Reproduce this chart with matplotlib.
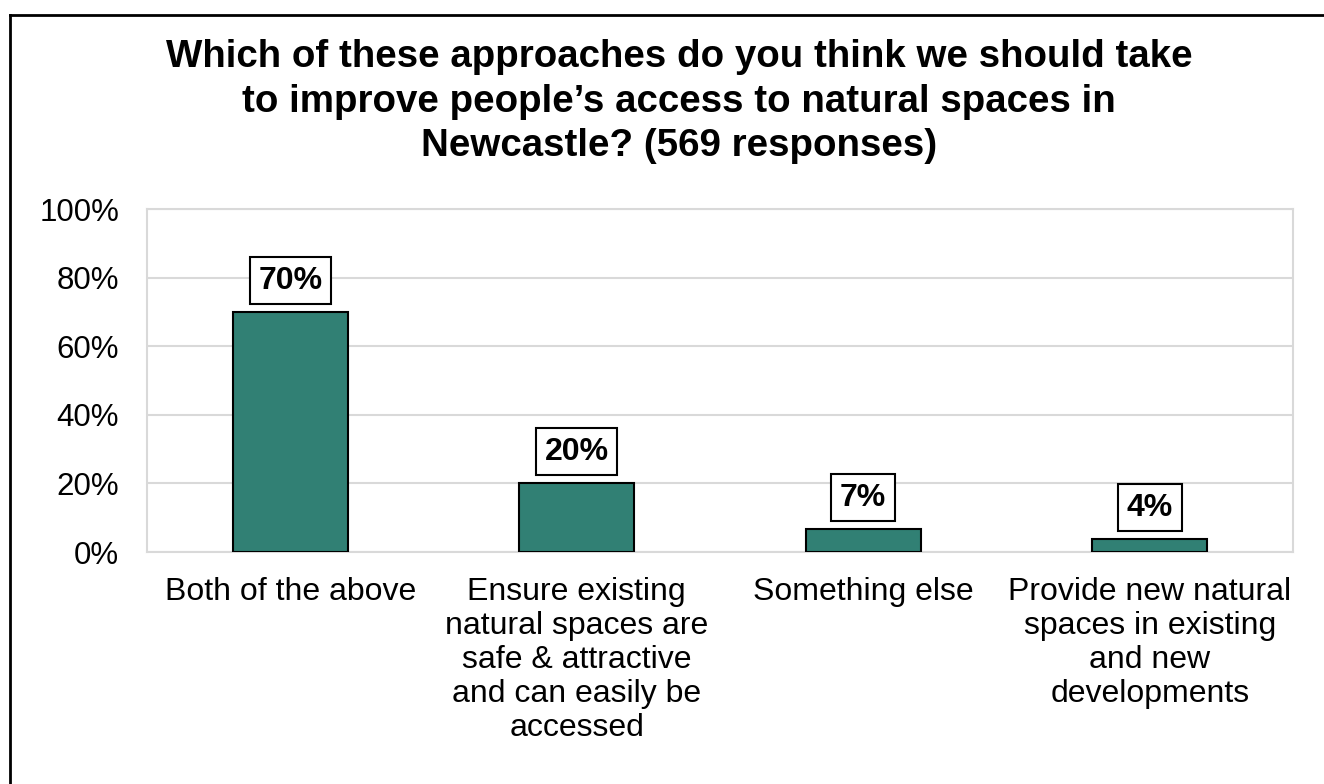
import matplotlib
matplotlib.use("Agg")
import matplotlib.pyplot as plt
from matplotlib.lines import Line2D
from matplotlib.ticker import PercentFormatter

plt.rcParams['font.family'] = ['Liberation Sans', 'DejaVu Sans']

# Survey answers (share of 569 responses, %)
categories = [
    "Both of the above",
    "Ensure existing\nnatural spaces are\nsafe & attractive\nand can easily be\naccessed",
    "Something else",
    "Provide new natural\nspaces in existing\nand new\ndevelopments",
]
shares = [69.9, 20.0, 6.6, 3.7]
y_ticks = [0, 20, 40, 60, 80, 100]
title = ("Which of these approaches do you think we should take\n"
         "to improve people\u2019s access to natural spaces in\n"
         "Newcastle? (569 responses)")

bar_color = "#318074"
grid_color = "#d9d9d9"

fig = plt.figure(figsize=(13.24, 7.84), dpi=100)
ax = fig.add_axes([0.111, 0.2959, 0.8656, 0.4375])

x = list(range(len(categories)))
bars = ax.bar(x, shares, width=0.40, color=bar_color, edgecolor="black",
              linewidth=1.5, zorder=3)

ax.set_xlim(-0.5, len(categories) - 0.5)
ax.set_ylim(0, 100)
ax.set_yticks(y_ticks)
ax.yaxis.set_major_formatter(PercentFormatter(decimals=0))
ax.grid(axis="y", color=grid_color, linewidth=1.5, zorder=0)
ax.set_axisbelow(True)
for side in ["left", "right", "top", "bottom"]:
    ax.spines[side].set_color(grid_color)
    ax.spines[side].set_linewidth(1.5)

ax.tick_params(axis="both", length=0)
ax.tick_params(axis="y", labelsize=22.5, pad=20)
ax.tick_params(axis="x", labelsize=23, pad=18)
ax.set_xticks(x)
ax.set_xticklabels(categories, linespacing=1.17)

# Value labels in white boxes above each bar
for rect, v in zip(bars, shares):
    ax.annotate(f"{v:.0f}%",
                xy=(rect.get_x() + rect.get_width() / 2, rect.get_height()),
                xytext=(0, 12), textcoords="offset points",
                ha="center", va="bottom", fontsize=23, fontweight="bold",
                bbox=dict(boxstyle="square,pad=0.27", facecolor="white",
                          edgecolor="black", linewidth=1.5),
                zorder=5)

fig.text(0.513, 1 - 39 / 784, title, ha="center", va="top",
         fontsize=27.7, fontweight="bold", linespacing=1.31)

# Frame lines along the top and left edges of the figure
fig.add_artist(Line2D([10 / 1324, 1], [1 - 15 / 784, 1 - 15 / 784],
                      transform=fig.transFigure, color="black", linewidth=2))
fig.add_artist(Line2D([10 / 1324, 10 / 1324], [0, 1 - 15 / 784],
                      transform=fig.transFigure, color="black", linewidth=2))

fig.savefig("out.png", dpi=100)
